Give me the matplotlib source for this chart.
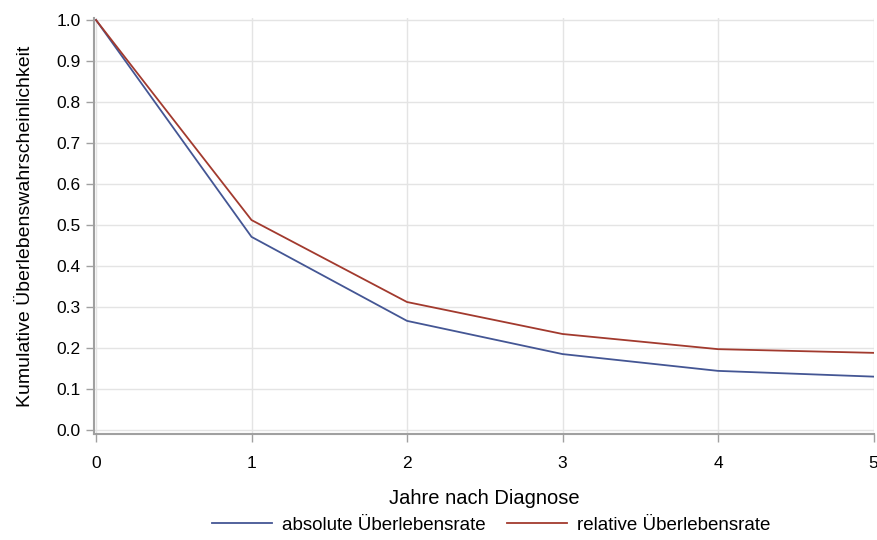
import matplotlib
matplotlib.use("Agg")
import matplotlib.pyplot as plt

plt.rcParams['font.family'] = ['Liberation Sans', 'DejaVu Sans']

# Daten
jahre = [0, 1, 2, 3, 4, 5]
absolut = [1.0, 0.471, 0.266, 0.185, 0.144, 0.130]
relativ = [1.0, 0.512, 0.312, 0.234, 0.197, 0.188]
y_ticks = [0.0, 0.1, 0.2, 0.3, 0.4, 0.5, 0.6, 0.7, 0.8, 0.9, 1.0]

blau = '#445694'
rot = '#A23A2E'
grau = '#a0a0a0'

fig = plt.figure(figsize=(8.77, 5.40), dpi=100)
ax = fig.add_axes([94 / 877, 1 - 434 / 540, 780 / 877, 416 / 540])

ax.plot(jahre, absolut, color=blau, lw=1.3, label='absolute Überlebensrate')
ax.plot(jahre, relativ, color=rot, lw=1.3, label='relative Überlebensrate')

ax.set_xlim(-0.013, 5.003)
ax.set_ylim(-0.01, 1.005)
ax.set_xticks(jahre)
ax.set_yticks(y_ticks)
ax.set_yticklabels([f'{v:.1f}' for v in y_ticks])

ax.grid(True, color='#e4e4e4', lw=1)
ax.set_axisbelow(True)
for s in ['top', 'right']:
    ax.spines[s].set_visible(False)
for s in ['left', 'bottom']:
    ax.spines[s].set_color(grau)
    ax.spines[s].set_linewidth(1.5)
ax.tick_params(colors=grau, labelcolor='black', labelsize=12.5, length=6, width=1)
ax.tick_params(axis='x', pad=10)

ax.set_xlabel('Jahre nach Diagnose', fontsize=14.5, labelpad=13)
ax.set_ylabel('Kumulative Überlebenswahrscheinlichkeit', fontsize=14, labelpad=16)

fig.legend(loc='lower center', bbox_to_anchor=(0.56, -0.02), ncol=2, frameon=False,
           fontsize=13.5, handlelength=3.2, handletextpad=0.55, columnspacing=1.1)

fig.savefig('out.png', dpi=100)
